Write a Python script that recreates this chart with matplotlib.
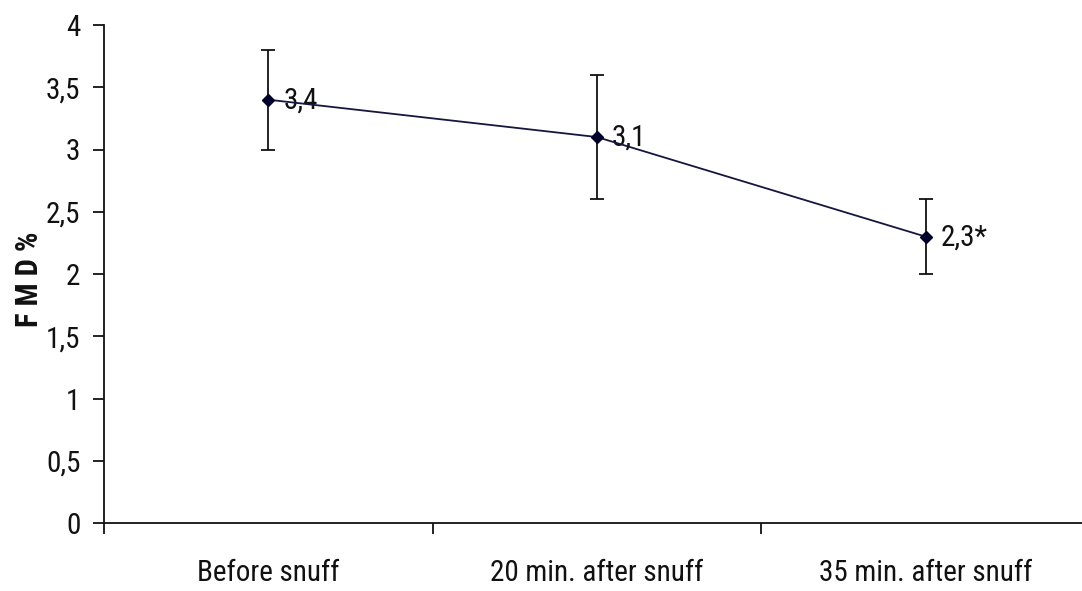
import matplotlib
matplotlib.use("Agg")
import matplotlib.pyplot as plt
from matplotlib.ticker import FixedLocator, FuncFormatter

categories = ["Before snuff", "20 min. after snuff", "35 min. after snuff"]
fmd_values = [3.4, 3.1, 2.3]
fmd_errors = [0.4, 0.5, 0.3]
value_labels = ["3,4", "3,1", "2,3*"]
y_ticks = [0, 0.5, 1, 1.5, 2, 2.5, 3, 3.5, 4]

plt.rcParams["font.family"] = ["Roboto Condensed", "DejaVu Sans"]
plt.rcParams["font.stretch"] = "condensed"

W, H = 1082, 591
fig = plt.figure(figsize=(W / 100, H / 100), dpi=100)
left, right, top, bottom = 104, 1090, 25, 523
ax = fig.add_axes([left / W, 1 - bottom / H, (right - left) / W, (bottom - top) / H])

x = list(range(len(categories)))
ax.errorbar(x, fmd_values, yerr=fmd_errors, color="#16163e", lw=1.3,
            marker="D", ms=6, mfc="#00002a", mec="#00002a",
            ecolor="#111111", elinewidth=1.3, capsize=5, capthick=1.3, zorder=3)

for xi, v, lab in zip(x, fmd_values, value_labels):
    ax.annotate(lab, (xi, v), xytext=(15, -1), textcoords="offset pixels",
                ha="left", va="center", fontsize=21, color="#111111",
                fontstretch="condensed")

ax.set_xlim(-0.5, 2.5)
ax.set_ylim(0, 4)
for s in ("top", "right"):
    ax.spines[s].set_visible(False)
for s in ("left", "bottom"):
    ax.spines[s].set_linewidth(1.3)
    ax.spines[s].set_color("#111111")

ax.yaxis.set_major_locator(FixedLocator(y_ticks))
ax.yaxis.set_major_formatter(FuncFormatter(lambda v, p: ("%g" % v).replace(".", ",")))
ax.tick_params(axis="y", direction="out", length=8, width=1.3, labelsize=21, pad=9,
               colors="#111111")

ax.set_xticks([-0.5, 0.5, 1.5, 2.5])
ax.set_xticklabels([])
ax.set_xticks(x, minor=True)
ax.set_xticklabels(categories, minor=True, fontsize=21)
ax.tick_params(axis="x", which="major", direction="out", length=8, width=1.3, colors="#111111")
ax.tick_params(axis="x", which="minor", length=0, pad=26, colors="#111111")

fig.text(29 / W, 1 - 279 / H, "F M D %", rotation=90, ha="center", va="center",
         fontsize=22, fontweight="bold", color="#111111", fontstretch="condensed")

fig.savefig("out.png", dpi=100)
